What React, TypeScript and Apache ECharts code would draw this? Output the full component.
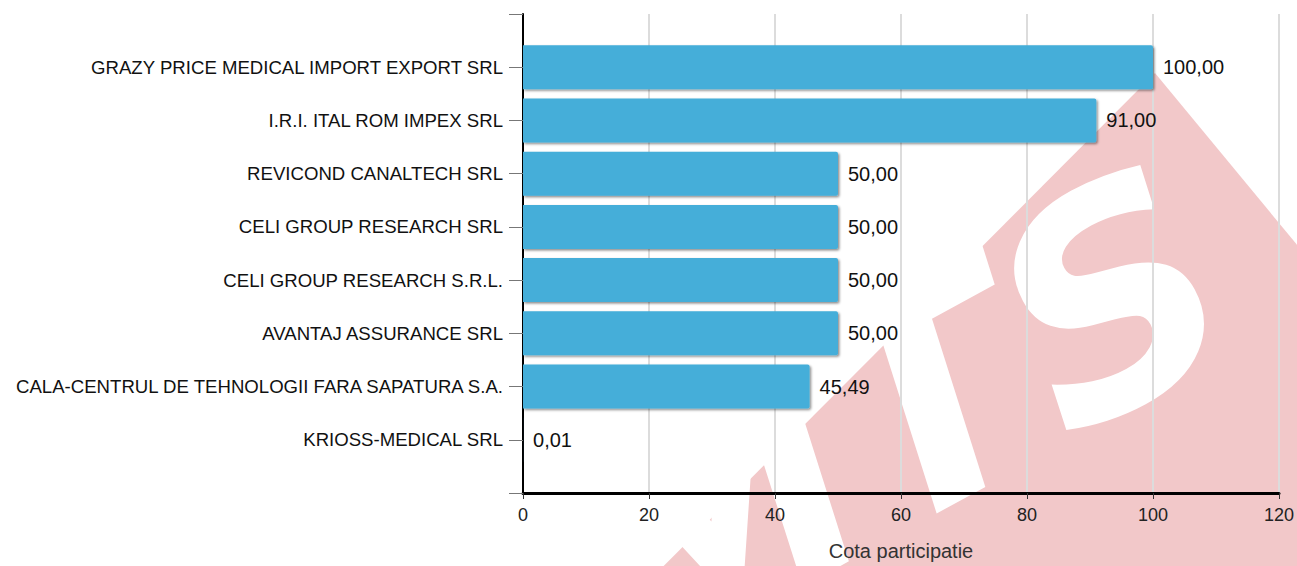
import React, { useEffect, useRef } from "react";
import * as echarts from "echarts";

const categories: string[] = [
  "",
  "GRAZY PRICE MEDICAL IMPORT EXPORT SRL",
  "I.R.I. ITAL ROM IMPEX SRL",
  "REVICOND CANALTECH SRL",
  "CELI GROUP RESEARCH SRL",
  "CELI GROUP RESEARCH S.R.L.",
  "AVANTAJ ASSURANCE SRL",
  "CALA-CENTRUL DE TEHNOLOGII FARA SAPATURA S.A.",
  "KRIOSS-MEDICAL SRL",
  "",
];
const values: (number | null)[] = [null, 100, 91, 50, 50, 50, 50, 45.49, 0.01, null];
const axisName = "Cota participatie";
const xMin = 0;
const xMax = 120;
const xInterval = 20;
const watermarkText = "MTS";

const FONT = "'Liberation Sans', Arial, Helvetica, sans-serif";

export default function App() {
  const ref = useRef<HTMLDivElement>(null);
  useEffect(() => {
    if (!ref.current) return;
    const chart = echarts.init(ref.current, undefined, { renderer: "svg" });
    chart.setOption({
      animation: false,
      backgroundColor: "#ffffff",
      textStyle: { fontFamily: FONT },
      grid: { left: 523, width: 756, top: 14, height: 482, containLabel: false },
      graphic: [
        {
          type: "polygon",
          z: -10,
          silent: true,
          shape: {
            points: [
              [1155, 73],
              [1560, 563],
              [1100, 1100],
              [562, 668],
            ],
          },
          style: { fill: "#f2c8c9" },
        },
        {
          type: "text",
          z: -9,
          silent: true,
          x: 895,
          y: 420,
          rotation: 0.5,
          style: {
            text: watermarkText,
            fill: "#ffffff",
            fontSize: 295,
            fontWeight: "bold",
            fontStyle: "italic",
            fontFamily: "'DejaVu Sans'",
            align: "center",
            verticalAlign: "middle",
          },
        },
      ],
      xAxis: {
        type: "value",
        min: xMin,
        max: xMax,
        interval: xInterval,
        position: "bottom",
        name: axisName,
        nameLocation: "middle",
        nameGap: 48,
        nameTextStyle: { fontSize: 20, color: "#333", fontFamily: FONT },
        axisLine: { show: true, lineStyle: { color: "#000", width: 3 } },
        axisTick: { show: true, length: 6, lineStyle: { color: "#333", width: 1 } },
        axisLabel: { fontSize: 18, color: "#222", margin: 13, fontFamily: FONT },
        splitLine: { show: true, lineStyle: { color: "#dcdcdc", width: 2 } },
      },
      yAxis: {
        type: "category",
        data: categories,
        inverse: true,
        boundaryGap: false,
        axisLine: { show: true, lineStyle: { color: "#000", width: 2 } },
        axisTick: { show: true, length: 14, alignWithLabel: true, lineStyle: { color: "#777", width: 1 } },
        axisLabel: { fontSize: 18.6, color: "#111", margin: 20, fontFamily: FONT, interval: 0 },
        splitLine: { show: false },
      },
      series: [
        {
          type: "bar",
          data: values,
          barWidth: 44,
          itemStyle: {
            color: "#45aed9",
            borderRadius: [0, 2, 2, 0],
            shadowColor: "rgba(0,0,0,0.45)",
            shadowBlur: 2,
            shadowOffsetX: 1.5,
            shadowOffsetY: 1.5,
          },
          label: {
            show: true,
            position: "right",
            distance: 10,
            fontSize: 20,
            color: "#111",
            fontFamily: FONT,
            formatter: (p: any) =>
              p.value == null ? "" : Number(p.value).toFixed(2).replace(".", ","),
          },
        },
      ],
    });
    return () => chart.dispose();
  }, []);
  return (
    <div
      ref={ref}
      style={{ position: "fixed", left: 0, top: 0, width: 1297, height: 566 }}
    />
  );
}
